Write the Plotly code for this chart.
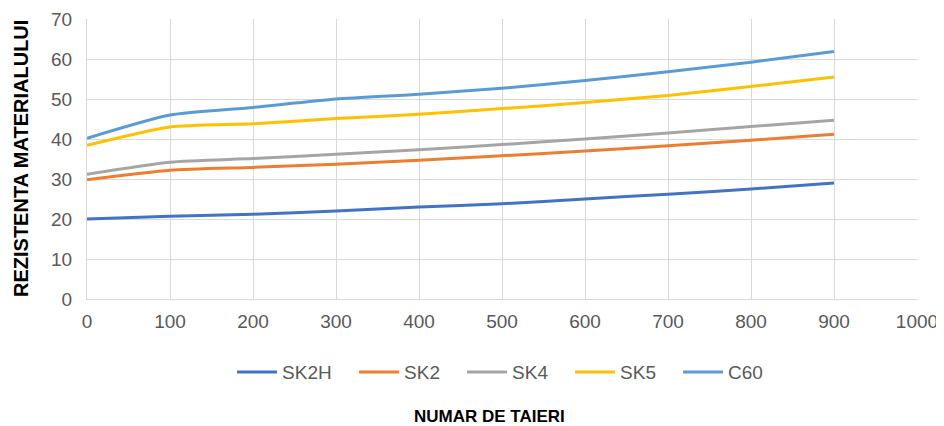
import plotly.graph_objects as go

# Values
taieri = [0, 100, 200, 300, 400, 500, 600, 700, 800, 900]
sk2h = [20.0, 20.7, 21.2, 22.0, 23.0, 23.8, 25.0, 26.2, 27.5, 29.0]
sk2 = [29.8, 32.2, 32.9, 33.7, 34.7, 35.8, 37.0, 38.3, 39.7, 41.2]
sk4 = [31.2, 34.2, 35.1, 36.2, 37.3, 38.6, 40.0, 41.5, 43.1, 44.7]
sk5 = [38.4, 43.0, 43.8, 45.1, 46.2, 47.6, 49.1, 50.9, 53.1, 55.5]
c60 = [40.2, 46.0, 47.9, 50.0, 51.2, 52.7, 54.6, 56.8, 59.2, 61.9]

series = [
    ("SK2H", sk2h, "#4472C4"),
    ("SK2", sk2, "#ED7D31"),
    ("SK4", sk4, "#A5A5A5"),
    ("SK5", sk5, "#FFC000"),
    ("C60", c60, "#5B9BD5"),
]

fig = go.Figure()

for name, vals, color in series:
    fig.add_trace(go.Scatter(
        x=taieri,
        y=vals,
        name=name,
        mode='lines',
        legendwidth=67 if name == "SK2H" else 53,
        line=dict(color=color, width=3, shape='spline', smoothing=0.6)
    ))

grid = '#d9d9d9'
font_family = 'Liberation Sans, Arial'
tick_font = dict(family=font_family, size=19, color='#595959')

# the page body adds an 8px offset, so margins are shifted to compensate
fig.update_layout(
    width=944,
    height=426,
    margin=dict(l=79, r=35, t=11, b=135),
    paper_bgcolor='white',
    plot_bgcolor='white',
    showlegend=True,
    legend=dict(
        orientation='h',
        x=0.5085, xanchor='center',
        y=-0.261, yanchor='middle',
        font=dict(family=font_family, size=19, color='#595959'),
        itemwidth=40,
        tracegroupgap=0
    ),
    xaxis=dict(
        range=[0, 1000],
        dtick=100,
        showgrid=True, gridcolor=grid, gridwidth=1,
        showline=True, linecolor=grid, linewidth=1,
        zeroline=False,
        ticks='',
        ticklabelstandoff=5,
        tickfont=tick_font,
        automargin=False
    ),
    yaxis=dict(
        range=[0, 70],
        dtick=10,
        showgrid=True, gridcolor=grid, gridwidth=1,
        showline=True, linecolor=grid, linewidth=1,
        zeroline=False,
        ticks='',
        ticklabelstandoff=10,
        tickfont=tick_font,
        automargin=False
    ),
    annotations=[
        dict(
            text='<b>REZISTENTA MATERIALULUI</b>',
            xref='paper', yref='paper',
            x=-0.0795, y=0.5,
            xanchor='center', yanchor='middle',
            textangle=-90, showarrow=False,
            font=dict(family=font_family, size=20, color='black')
        ),
        dict(
            text='<b>NUMAR DE TAIERI</b>',
            xref='paper', yref='paper',
            x=0.4855, y=-0.421,
            xanchor='center', yanchor='middle',
            showarrow=False,
            font=dict(family=font_family, size=17, color='black')
        ),
    ]
)

fig.write_html("out.html")
